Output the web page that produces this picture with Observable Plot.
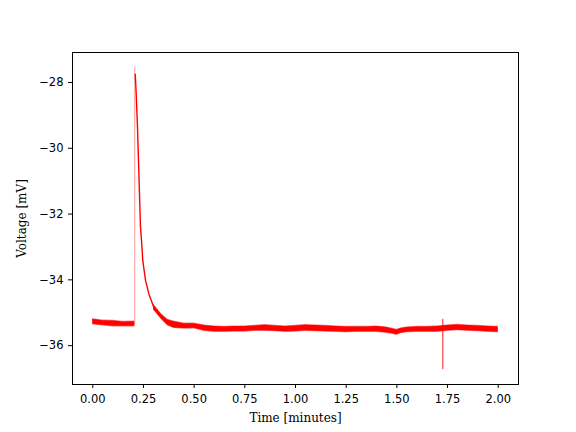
<!DOCTYPE html>
<html>
<head>
<meta charset="utf-8">
<script src="https://cdn.jsdelivr.net/npm/d3@7"></script>
<script src="https://cdn.jsdelivr.net/npm/@observablehq/plot@0.6"></script>
<style>
  html, body { margin: 0; padding: 0; background: white; }
</style>
</head>
<body>
<div id="chart"></div>
<script>
// ---- Data (time in minutes, voltage in mV) ----
// Resting baseline before the stimulus: outer noise envelope and dense core
const baseT      = [0.00, 0.05, 0.10, 0.15, 0.2072];
const baseOutHi  = [-35.18, -35.22, -35.23, -35.26, -35.25];
const baseOutLo  = [-35.37, -35.40, -35.43, -35.43, -35.43];
const baseCoreHi = [-35.20, -35.24, -35.25, -35.28, -35.27];
const baseCoreLo = [-35.35, -35.38, -35.41, -35.41, -35.41];

// Fast jump at stimulus onset
const jumpT = [0.2072, 0.2072];
const jumpV = [-35.34, -27.53];

// Decay back toward rest (trace centre)
const decayT = [0.2095, 0.2141, 0.2205, 0.2255, 0.2304, 0.2353, 0.2403, 0.2467, 0.2600, 0.2763, 0.3009, 0.3424];
const decayV = [-27.75, -28.33, -29.35, -30.36, -31.37, -32.39, -32.80, -33.41, -34.01, -34.42, -34.83, -35.13];

// Settled trace after the decay: outer noise envelope and dense core
const flatT  = [0.30, 0.34, 0.37, 0.40, 0.45, 0.50, 0.55, 0.60, 0.65, 0.70, 0.75, 0.80, 0.85, 0.90, 0.95, 1.00,
                1.05, 1.10, 1.15, 1.20, 1.25, 1.30, 1.35, 1.40, 1.45, 1.48, 1.50, 1.52, 1.55, 1.60, 1.65, 1.70,
                1.75, 1.80, 1.85, 1.90, 1.95, 2.00];
const flatOutHi = [-34.74, -35.04, -35.20, -35.25, -35.31, -35.31, -35.37, -35.40, -35.41, -35.40, -35.40, -35.38, -35.36, -35.38, -35.40, -35.38,
                   -35.36, -35.37, -35.38, -35.40, -35.41, -35.41, -35.41, -35.40, -35.43, -35.47, -35.50, -35.46, -35.43, -35.41, -35.41, -35.40,
                   -35.37, -35.35, -35.37, -35.38, -35.40, -35.41];
const flatOutLo = [-34.92, -35.22, -35.40, -35.48, -35.50, -35.49, -35.57, -35.60, -35.60, -35.59, -35.59, -35.57, -35.57, -35.58, -35.60, -35.59,
                   -35.57, -35.58, -35.59, -35.60, -35.61, -35.60, -35.60, -35.60, -35.63, -35.66, -35.69, -35.64, -35.61, -35.60, -35.60, -35.60,
                   -35.57, -35.55, -35.57, -35.58, -35.60, -35.61];
const flatCoreHi = [-34.76, -35.06, -35.22, -35.27, -35.33, -35.33, -35.39, -35.42, -35.43, -35.42, -35.42, -35.40, -35.38, -35.40, -35.42, -35.40,
                    -35.38, -35.39, -35.40, -35.42, -35.43, -35.43, -35.43, -35.42, -35.45, -35.49, -35.52, -35.48, -35.45, -35.43, -35.43, -35.42,
                    -35.39, -35.37, -35.39, -35.40, -35.42, -35.43];
const flatCoreLo = [-34.90, -35.20, -35.38, -35.46, -35.48, -35.47, -35.55, -35.58, -35.58, -35.57, -35.57, -35.55, -35.55, -35.56, -35.58, -35.57,
                    -35.55, -35.56, -35.57, -35.58, -35.59, -35.58, -35.58, -35.58, -35.61, -35.64, -35.67, -35.62, -35.59, -35.58, -35.58, -35.58,
                    -35.55, -35.53, -35.55, -35.56, -35.58, -35.59];

// Brief artefact spike late in the recording
const artT  = [1.7267];
const artHi = [-35.20];
const artLo = [-36.73];

// Axis ticks and labels
const xTicks = [0, 0.25, 0.5, 0.75, 1.0, 1.25, 1.5, 1.75, 2.0];
const yTicks = [-36, -34, -32, -30, -28];
const xLabel = "Time [minutes]";
const yLabel = "Voltage [mV]";

// ---- Tables built from the arrays ----
const baseOut  = baseT.map((t, i) => ({t, hi: baseOutHi[i], lo: baseOutLo[i]}));
const baseCore = baseT.map((t, i) => ({t, hi: baseCoreHi[i], lo: baseCoreLo[i]}));
const flatOut  = flatT.map((t, i) => ({t, hi: flatOutHi[i], lo: flatOutLo[i]}));
const flatCore = flatT.map((t, i) => ({t, hi: flatCoreHi[i], lo: flatCoreLo[i]}));
const jump  = jumpT.map((t, i) => ({t, v: jumpV[i]}));
const decay = decayT.map((t, i) => ({t, v: decayV[i]}));
const art   = artT.map((t, i) => ({t, hi: artHi[i], lo: artLo[i]}));

const RED = "#ff0000";
const serif = "'DejaVu Serif', serif";

const chart = Plot.plot({
  width: 576,
  height: 432,
  marginLeft: 72,
  marginRight: 58,
  marginTop: 52,
  marginBottom: 48,
  style: {fontFamily: "'DejaVu Sans', sans-serif", fontSize: "11.5px", color: "black", background: "white"},
  x: {domain: [-0.1, 2.1]},
  y: {domain: [-37.18, -27.09]},
  marks: [
    Plot.areaY(baseOut, {x: "t", y1: "lo", y2: "hi", fill: RED, fillOpacity: 0.55}),
    Plot.areaY(baseCore, {x: "t", y1: "lo", y2: "hi", fill: RED}),
    Plot.areaY(flatOut, {x: "t", y1: "lo", y2: "hi", fill: RED, fillOpacity: 0.55}),
    Plot.areaY(flatCore, {x: "t", y1: "lo", y2: "hi", fill: RED}),
    Plot.line(jump, {x: "t", y: "v", stroke: RED, strokeWidth: 0.9, strokeOpacity: 0.45}),
    Plot.line(decay, {x: "t", y: "v", stroke: RED, strokeWidth: 1.4}),
    Plot.ruleX(art, {x: "t", y1: "lo", y2: "hi", stroke: RED, strokeWidth: 0.9}),
    Plot.frame({stroke: "black", strokeWidth: 1}),
    Plot.axisX({ticks: xTicks, tickFormat: d3.format(".2f"), tickSize: 4, tickPadding: 6.5, label: null, fontSize: 11.5}),
    Plot.axisY({ticks: yTicks, tickFormat: d3.format("d"), tickSize: 4, tickPadding: 5, label: null, fontSize: 11.5}),
    Plot.text([xLabel], {frameAnchor: "bottom", dy: 34, lineAnchor: "middle", textAnchor: "middle", text: d => d, fontFamily: serif, fontSize: 12, fill: "black"}),
    Plot.text([yLabel], {frameAnchor: "left", dx: -50, rotate: -90, lineAnchor: "middle", textAnchor: "middle", text: d => d, fontFamily: serif, fontSize: 12, fill: "black"})
  ]
});
document.getElementById("chart").appendChild(chart);
</script>
</body>
</html>
